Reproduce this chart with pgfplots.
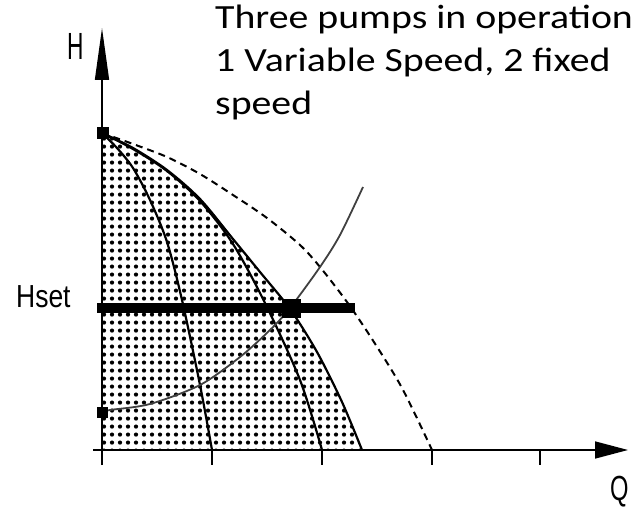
\documentclass[border=0pt]{standalone}
\usepackage{pgfplots}
\pgfplotsset{compat=1.18}
\usetikzlibrary{patterns.meta,arrows.meta}
\usepackage{fontspec}
\setmainfont{Carlito}
\newfontfamily\arialfont{Liberation Sans}

\begin{document}
\begin{tikzpicture}
\begin{axis}[
  scale only axis, width=637bp, height=504bp,
  xmin=-102, xmax=535, ymin=-54, ymax=450,
  hide axis, clip=false]
\path (rel axis cs:0,0) rectangle (rel axis cs:1,1);
% shaded region under the combined curve
\addplot[draw=none, smooth, pattern={Dots[distance=8bp,radius=2.1bp]}] coordinates {
 (0,317) (31,302) (65,280) (98,251) (131,211) (158,178) (188,141) (215,98) (240,48) (260,0)} \closedcycle;
% axes
\draw[line width=1.6bp, -{Triangle[length=33bp,width=17bp]}] (axis cs:-9,0) -- (axis cs:526,0);
\draw[line width=1.6bp, -{Triangle[length=52bp,width=14bp]}] (axis cs:0,-15) -- (axis cs:0,422);
\draw[line width=1.4bp] (axis cs:110,0) -- (axis cs:110,-15);
\draw[line width=1.4bp] (axis cs:220,0) -- (axis cs:220,-15);
\draw[line width=1.4bp] (axis cs:330,0) -- (axis cs:330,-15);
\draw[line width=1.4bp] (axis cs:438,0) -- (axis cs:438,-15);
% pump curves
\addplot[line width=2.2bp, smooth] coordinates {
 (0,317) (15,302) (31,282) (48,250) (65,208) (80,150) (98,65) (110,0)};
\addplot[line width=2.2bp, smooth] coordinates {
 (0,317) (31,301) (65,279) (98,249) (131,206) (163,147) (198,70) (220,0)};
\addplot[line width=2.2bp, smooth] coordinates {
 (0,317) (31,302) (65,280) (98,251) (131,211) (158,178) (188,141) (215,98) (240,48) (260,0)};
\addplot[line width=2bp, smooth, dash pattern=on 7bp off 5bp] coordinates {
 (0,317) (31,306) (65,293) (98,276) (131,255) (165,232) (198,205) (218,183) (245,148) (270,111) (300,62) (330,0)};
% system curve
\addplot[line width=1.8bp, smooth, black!75] coordinates {
 (0,38) (8,40) (48,46) (98,65) (138,93) (168,120) (188,142) (218,183) (238,215) (261,263)};
% Hset line
\addplot[line width=10bp, line cap=butt] coordinates {(-5,142) (253,142)};
% markers
\addplot[only marks, mark=square*, mark size=5.5bp] coordinates {(1,317)};
\addplot[only marks, mark=square*, mark size=5bp] coordinates {(0,38)};
\addplot[only marks, mark=square*, mark size=9bp] coordinates {(189,142)};
% labels
\node[anchor=base west, font=\arialfont\fontsize{38}{40}\selectfont, inner sep=0pt] at (axis cs:-35,390) {\scalebox{0.6}[1]{H}};
\node[anchor=base west, font=\arialfont\fontsize{32}{36}\selectfont, inner sep=0pt] at (axis cs:-86,142) {\scalebox{0.83}[1]{Hset}};
\node[anchor=base west, font=\arialfont\fontsize{35}{36}\selectfont, inner sep=0pt] at (axis cs:508,-50) {\scalebox{0.68}[1]{Q}};
\node[anchor=base west, font=\fontsize{34}{44}\selectfont, inner sep=0pt] at (axis cs:113,421) {\scalebox{1.175}[1]{Three pumps in operation}};
\node[anchor=base west, font=\fontsize{34}{44}\selectfont, inner sep=0pt] at (axis cs:113,378) {\scalebox{1.175}[1]{1 Variable Speed, 2 fixed}};
\node[anchor=base west, font=\fontsize{34}{44}\selectfont, inner sep=0pt] at (axis cs:113,335) {\scalebox{1.175}[1]{speed}};
\end{axis}
\end{tikzpicture}
\end{document}
